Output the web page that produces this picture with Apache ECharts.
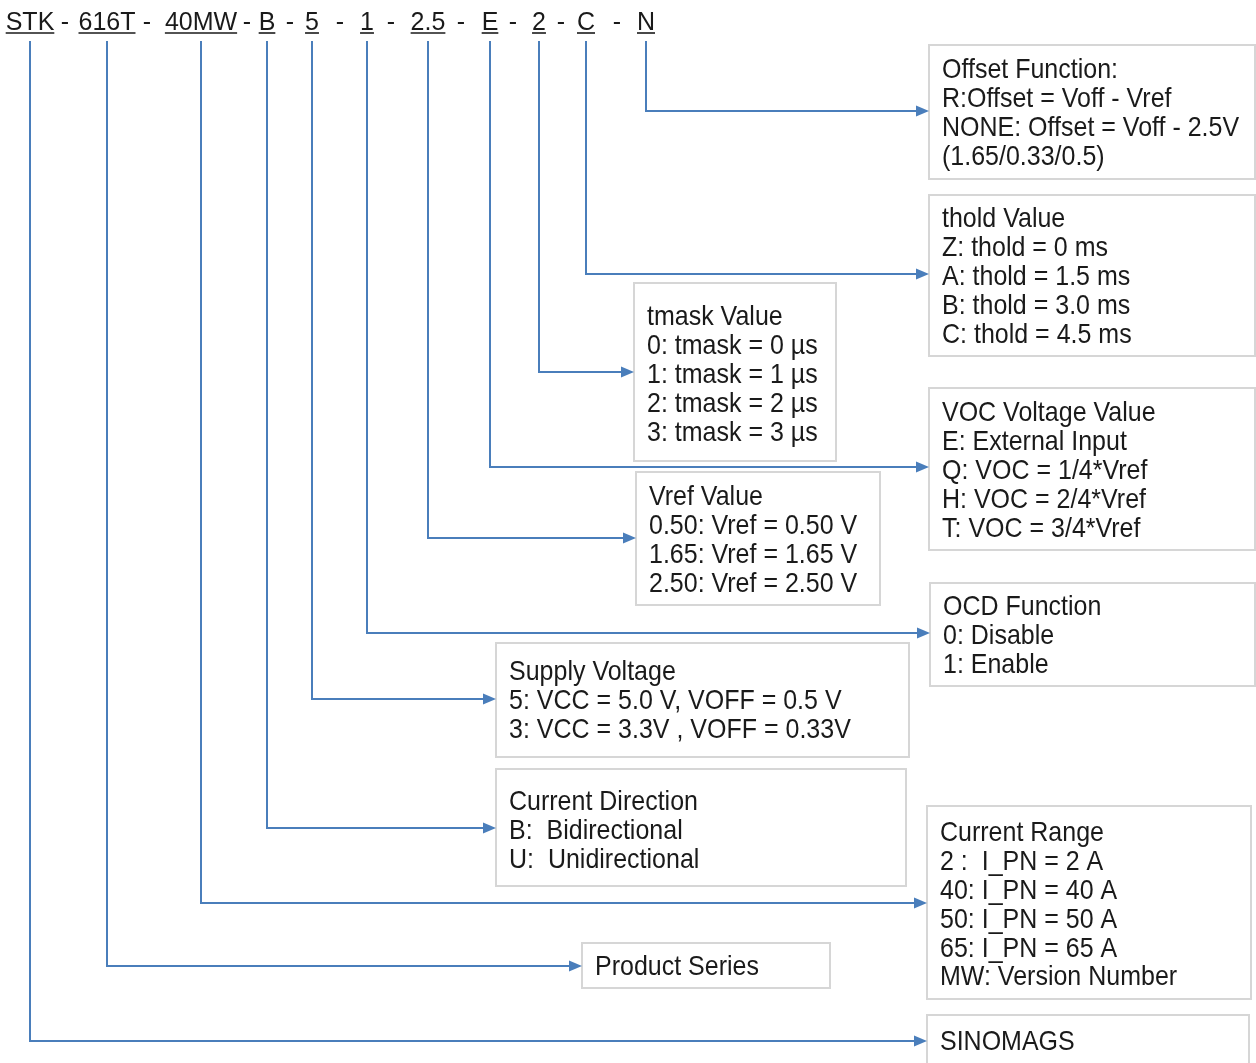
<!DOCTYPE html>
<html><head><meta charset="utf-8">
<script src="https://cdn.jsdelivr.net/npm/echarts@6/dist/echarts.min.js"></script>
<style>html,body{margin:0;padding:0;background:#fff;overflow:hidden}#c{width:1256px;height:1063px}</style>
</head><body><div id="c"></div>
<script>
// ---- content (in order of the part-number fields) ----
const codes = ['STK', '616T', '40MW', 'B', '5', '1', '2.5', 'E', '2', 'C', 'N'];
const separators = ['-', '-', '-', '-', '-', '-', '-', '-', '-', '-'];
const boxTexts = [
  ['SINOMAGS'],
  ['Product Series'],
  ['Current Range', '2 :  I_PN = 2 A', '40: I_PN = 40 A', '50: I_PN = 50 A', '65: I_PN = 65 A', 'MW: Version Number'],
  ['Current Direction', 'B:  Bidirectional', 'U:  Unidirectional'],
  ['Supply Voltage', '5: VCC = 5.0 V, VOFF = 0.5 V', '3: VCC = 3.3V , VOFF = 0.33V'],
  ['OCD Function', '0: Disable', '1: Enable'],
  ['Vref Value', '0.50: Vref = 0.50 V', '1.65: Vref = 1.65 V', '2.50: Vref = 2.50 V'],
  ['VOC Voltage Value', 'E: External Input', 'Q: VOC = 1/4*Vref', 'H: VOC = 2/4*Vref', 'T: VOC = 3/4*Vref'],
  ['tmask Value', '0: tmask = 0 \u00b5s', '1: tmask = 1 \u00b5s', '2: tmask = 2 \u00b5s', '3: tmask = 3 \u00b5s'],
  ['thold Value', 'Z: thold = 0 ms', 'A: thold = 1.5 ms', 'B: thold = 3.0 ms', 'C: thold = 4.5 ms'],
  ['Offset Function:', 'R:Offset = Voff - Vref', 'NONE: Offset = Voff - 2.5V', '(1.65/0.33/0.5)']
];

// ---- layout (diagram units on hidden axes) ----
const codeX = [30, 107, 201, 267, 312, 367, 428, 490, 539, 586, 646];
const separatorX = [65, 147, 247, 290, 340, 391, 461, 513, 561, 617];
const arrowY = [1041, 966, 903, 828, 699, 633, 538, 467, 372, 274, 111];
const boxLeft = [927, 582, 927, 496, 496, 930, 636, 929, 634, 929, 929];
const boxTop = [1015, 943, 806, 769, 643, 583, 472, 388, 283, 195, 45];
const boxRight = [1249, 830, 1251, 906, 909, 1255, 880, 1255, 836, 1255, 1255];
const boxBottom = [1075, 988, 999, 886, 757, 686, 605, 550, 461, 356, 179];
const firstLineY = [1043, 968, 834, 803, 673, 608, 498, 414, 318, 220, 71];
const headerY = 23, underlineY = 33, connectorTopY = 41, lineStep = 28.8, textPad = 13;

const FAMILY = '"Liberation Sans", Arial, sans-serif';
const FS = 25;
const BOX_STRETCH_Y = 1.07;
const BLUE = '#4a7ebb', GREY = '#d6d6d6', INK = '#1a1a1a';

const ctx = document.createElement('canvas').getContext('2d');
ctx.font = FS + 'px ' + FAMILY;

const chart = echarts.init(document.getElementById('c'), null, {renderer: 'canvas'});

const connectorData = codes.map((c, i) => [codeX[i], arrowY[i], boxLeft[i]]);
const boxData = boxTexts.map((t, i) => [boxLeft[i], boxTop[i], boxRight[i], boxBottom[i]]);
const codeData = codes.map((c, i) => [codeX[i], headerY]);
const sepData = separators.map((s, i) => [separatorX[i], headerY]);

function textEl(str, p, align, sy) {
  return {
    type: 'text', x: p[0], y: p[1], scaleX: 1, scaleY: sy,
    style: {text: str, x: 0, y: 0, fill: INK, fontSize: FS, fontFamily: FAMILY,
      textAlign: align, textVerticalAlign: 'middle'}
  };
}

chart.setOption({
  animation: false,
  backgroundColor: '#ffffff',
  grid: {left: 0, right: 0, top: 0, bottom: 0},
  xAxis: {type: 'value', min: 0, max: 1256, show: false},
  yAxis: {type: 'value', min: 0, max: 1063, inverse: true, show: false},
  series: [
    {
      type: 'custom', name: 'boxes', clip: false, z: 1,
      data: boxData,
      encode: {x: [0, 2], y: [1, 3]},
      renderItem: function (params, api) {
        const i = params.dataIndex;
        const p0 = api.coord([api.value(0), api.value(1)]);
        const p1 = api.coord([api.value(2), api.value(3)]);
        const children = [{
          type: 'rect',
          shape: {x: p0[0], y: p0[1], width: p1[0] - p0[0], height: p1[1] - p0[1]},
          style: {fill: '#ffffff', stroke: GREY, lineWidth: 2}
        }];
        boxTexts[i].forEach((line, k) => {
          const pt = api.coord([api.value(0) + textPad, firstLineY[i] + k * lineStep]);
          children.push(textEl(line, pt, 'left', BOX_STRETCH_Y));
        });
        return {type: 'group', children: children};
      }
    },
    {
      type: 'custom', name: 'connectors', clip: false, z: 2,
      data: connectorData,
      encode: {x: [0, 2], y: 1},
      renderItem: function (params, api) {
        const x = api.value(0), y = api.value(1), tx = api.value(2);
        const a = api.coord([x, connectorTopY]);
        const b = api.coord([x, y]);
        const t = api.coord([tx, y]);
        const head = 13, half = 5.5;
        return {
          type: 'group',
          children: [
            {type: 'polyline', shape: {points: [a, b, [t[0] - head + 1, t[1]]]},
              style: {stroke: BLUE, lineWidth: 2, fill: null}},
            {type: 'polygon', shape: {points: [[t[0], t[1]], [t[0] - head, t[1] - half], [t[0] - head, t[1] + half]]},
              style: {fill: BLUE}}
          ]
        };
      }
    },
    {
      type: 'custom', name: 'codes', clip: false, z: 3,
      data: codeData,
      encode: {x: 0, y: 1},
      renderItem: function (params, api) {
        const i = params.dataIndex;
        const p = api.coord([api.value(0), api.value(1)]);
        const u = api.coord([api.value(0), underlineY]);
        const w = ctx.measureText(codes[i]).width;
        return {
          type: 'group',
          children: [
            textEl(codes[i], p, 'center', 1),
            {type: 'line', shape: {x1: p[0] - w / 2, y1: u[1], x2: p[0] + w / 2, y2: u[1]},
              style: {stroke: INK, lineWidth: 1.6}}
          ]
        };
      }
    },
    {
      type: 'custom', name: 'separators', clip: false, z: 3,
      data: sepData,
      encode: {x: 0, y: 1},
      renderItem: function (params, api) {
        const p = api.coord([api.value(0), api.value(1)]);
        return textEl(separators[params.dataIndex], p, 'center', 1);
      }
    }
  ]
});
</script></body></html>
